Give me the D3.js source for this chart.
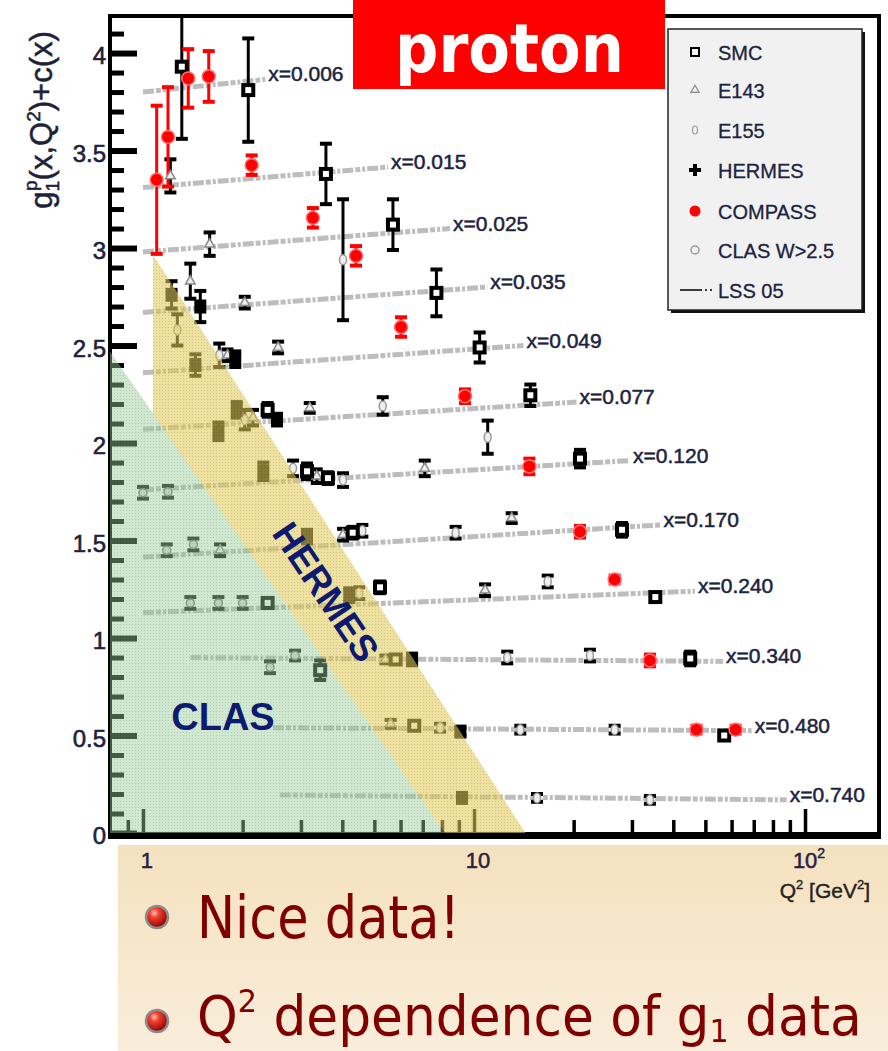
<!DOCTYPE html>
<html><head><meta charset="utf-8">
<script src="https://cdn.jsdelivr.net/npm/d3@7"></script>
<style>body{margin:0;background:#fff;} svg{display:block}</style>
</head><body>
<svg id="c" width="888" height="1051"></svg>
<script>
// ---------------- DATA ----------------
const yTickValues = [0, 0.5, 1, 1.5, 2, 2.5, 3, 3.5, 4];
const yTickLabels = ["0", "0.5", "1", "1.5", "2", "2.5", "3", "3.5", "4"];
const xMajorTicks = [1, 10, 100];
const xMinorTicks = [0.9, 2, 3, 4, 5, 6, 7, 8, 9, 20, 30, 40, 50, 60, 70, 80, 90];
const xTickLabels = ["1", "10", "10"];   // 100 drawn as 10 with superscript 2

const binLabels = ["x=0.006","x=0.015","x=0.025","x=0.035","x=0.049","x=0.077","x=0.120","x=0.170","x=0.240","x=0.340","x=0.480","x=0.740"];
// LSS 05 curves: [Q2, value] start and end points per bin
const lssStart = [[1.0,3.80],[1.0,3.31],[1.0,2.98],[1.0,2.67],[1.0,2.36],[1.0,2.07],[1.0,1.76],[1.0,1.415],[1.0,1.13],[1.39,0.90],[2.47,0.54],[2.59,0.195]];
const lssEnd   = [[2.34,3.865],[5.5,3.415],[8.46,3.10],[10.97,2.80],[14.1,2.50],[20.4,2.21],[29.6,1.91],[36.6,1.58],[46.5,1.24],[56.5,0.88],[69,0.525],[88,0.17]];

// [Q2, g1+c, error]
const smc = [[1.31,3.93,0.37],[2.08,3.81,0.265],[3.57,3.38,0.155],[5.69,3.12,0.13],[7.7,2.77,0.12],
  [10.4,2.49,0.077],[14.8,2.245,0.055],[2.38,2.17,0.035],[20.9,1.92,0.045],[3.13,1.855,0.04],[3.62,1.82,0.03],
  [28.0,1.555,0.035],[4.3,1.54,0.03],[35.3,1.21,0.02],[5.2,1.26,0.03],[2.38,1.18,0.025],
  [45,0.895,0.035],[3.43,0.835,0.05],[5.8,0.89,0.02],[57,0.50,0.02],[6.6,0.55,0.02]];
const compass = [[1.10,3.35,0.38],[1.19,3.57,0.255],[1.37,3.87,0.15],[1.58,3.88,0.13],[2.13,3.425,0.05],
  [3.26,3.155,0.05],[4.40,2.96,0.05],[6.02,2.595,0.05],[9.39,2.24,0.035],[14.7,1.88,0.04],[20.9,1.545,0.03],
  [26.6,1.30,0.02],[34.0,0.885,0.03],[47.0,0.53,0.02],[61.7,0.53,0.02]];
const hermes = [[1.22,2.76,0.07],[1.49,2.70,0.08],[1.44,2.40,0.055],[1.9,2.43,0.04],[1.69,2.06,0.045],
  [1.92,2.17,0.04],[2.54,2.12,0.03],[2.31,1.855,0.045],[3.13,1.52,0.035],[4.2,1.22,0.035],[6.5,0.89,0.03],
  [9.1,0.52,0.02],[9.2,0.18,0.02]];
const e143 = [[1.21,3.37,0.085],[1.59,3.02,0.06],[1.39,2.83,0.09],[2.03,2.72,0.03],[1.80,2.45,0.03],
  [2.56,2.49,0.03],[2.15,2.13,0.04],[3.19,2.18,0.025],[3.35,1.83,0.035],[7.1,1.87,0.04],[4.02,1.53,0.03],
  [13.0,1.615,0.025],[10.8,1.245,0.03],[5.4,0.89,0.02],[5.6,0.56,0.02],[1.71,1.45,0.03]];
const e155 = [[4.02,2.94,0.31],[1.27,2.58,0.08],[1.70,2.45,0.06],[2.03,2.12,0.05],[5.3,2.19,0.045],
  [11.0,2.03,0.085],[2.84,1.87,0.04],[4.02,1.81,0.035],[4.6,1.55,0.03],[8.8,1.54,0.03],[16.7,1.29,0.03],
  [4.5,1.23,0.03],[12.6,0.90,0.03],[22.4,0.91,0.03],[7.9,0.54,0.02],[13.8,0.53,0.02],[26.6,0.53,0.02],
  [15.5,0.18,0.02],[34,0.17,0.02]];
const clas = [[1.0,1.745,0.03],[1.19,1.75,0.03],[1.18,1.45,0.03],[1.42,1.48,0.03],
  [1.39,1.18,0.03],[1.69,1.18,0.03],[2.0,1.18,0.03],[2.42,0.85,0.03],[2.88,0.91,0.025]];

// kinematic regions [Q2, value]
const clasRegion = [[0.795,2.47],[8.17,0],[0.795,0]];
const hermesRegion = [[1.072,2.965],[14.3,0],[8.17,0],[1.072,2.15]];

const legendNames = ["SMC","E143","E155","HERMES","COMPASS","CLAS W>2.5","LSS 05"];

// ---------------- CHART ----------------
const svg = d3.select("#c");
const x = d3.scaleLog().domain([0.795, 167.3]).range([110, 879]);
const y = d3.scaleLinear().domain([0, 4.19]).range([833, 16]);
const defs = svg.append("defs");
const FONT = "Liberation Sans, Arial, sans-serif";

const bg = defs.append("linearGradient").attr("id","beige").attr("x1",0).attr("y1",0).attr("x2",0).attr("y2",1);
bg.append("stop").attr("offset","0%").attr("stop-color","#f4e1be");
bg.append("stop").attr("offset","100%").attr("stop-color","#f9eddb");
const rg = defs.append("radialGradient").attr("id","ball").attr("cx","38%").attr("cy","32%").attr("r","70%");
rg.append("stop").attr("offset","0%").attr("stop-color","#ffc0b0");
rg.append("stop").attr("offset","30%").attr("stop-color","#f04030");
rg.append("stop").attr("offset","100%").attr("stop-color","#8a0000");
defs.append("clipPath").attr("id","plotclip").append("rect").attr("x",110).attr("y",16).attr("width",769).attr("height",818);
const pat = defs.append("pattern").attr("id","dots").attr("width",3).attr("height",3).attr("patternUnits","userSpaceOnUse");
pat.append("rect").attr("width",1).attr("height",1).attr("fill","#000").attr("opacity",0.12);

// bottom text box
svg.append("rect").attr("x",118).attr("y",845).attr("width",770).attr("height",206).attr("fill","url(#beige)");

const plot = svg.append("g").attr("clip-path","url(#plotclip)");

// LSS curves
const line = d3.line().x(d => x(d[0])).y(d => y(d[1]));
lssStart.forEach((s, i) => {
  plot.append("path").attr("d", line([s, lssEnd[i]]))
    .attr("fill","none").attr("stroke","#bdbdbd").attr("stroke-width",5)
    .attr("stroke-dasharray","11 2 5 2 3 2");
});

function errBars(data, color) {
  const g = plot.append("g").attr("stroke", color).attr("stroke-width", 3);
  data.forEach(d => {
    const cx = x(d[0]), y1 = y(d[1] + d[2]), y2 = y(d[1] - d[2]);
    g.append("line").attr("x1",cx).attr("x2",cx).attr("y1",y1).attr("y2",y2);
    g.append("line").attr("x1",cx-6).attr("x2",cx+6).attr("y1",y1).attr("y2",y1).attr("stroke-width",4);
    g.append("line").attr("x1",cx-6).attr("x2",cx+6).attr("y1",y2).attr("y2",y2).attr("stroke-width",4);
  });
}
errBars(e143, "#000"); errBars(e155, "#000"); errBars(clas, "#111");
errBars(smc, "#000"); errBars(hermes, "#000"); errBars(compass, "#ff0000");

plot.append("g").selectAll("path").data(e143).join("path")
  .attr("d", d3.symbol(d3.symbolTriangle, 40)())
  .attr("transform", d => `translate(${x(d[0])},${y(d[1])})`)
  .attr("fill","#eee").attr("stroke","#888").attr("stroke-width",1.5);
plot.append("g").selectAll("ellipse").data(e155).join("ellipse")
  .attr("cx", d => x(d[0])).attr("cy", d => y(d[1])).attr("rx",3.5).attr("ry",5)
  .attr("fill","#eee").attr("stroke","#999").attr("stroke-width",1.5);
plot.append("g").selectAll("circle").data(clas).join("circle")
  .attr("cx", d => x(d[0])).attr("cy", d => y(d[1])).attr("r",4)
  .attr("fill","#ddd").attr("stroke","#777").attr("stroke-width",1.5);
plot.append("g").selectAll("rect").data(smc).join("rect")
  .attr("x", d => x(d[0]) - 5).attr("y", d => y(d[1]) - 5).attr("width",10).attr("height",10)
  .attr("fill","#fff").attr("stroke","#000").attr("stroke-width",4);
plot.append("g").selectAll("rect").data(hermes).join("rect")
  .attr("x", d => x(d[0]) - 6).attr("y", d => y(d[1]) - 7).attr("width",12).attr("height",14)
  .attr("fill","#000");
plot.append("g").selectAll("circle").data(compass).join("circle")
  .attr("cx", d => x(d[0])).attr("cy", d => y(d[1])).attr("r",6.5)
  .attr("fill","#ff0000").attr("stroke","#ff7070").attr("stroke-width",1.5);

// axes
const yMinor = d3.range(1, 42).map(i => i / 10).filter(v => Math.abs(v * 2 - Math.round(v * 2)) > 1e-6);
const gyMinor = svg.append("g").attr("transform","translate(110,0)")
  .call(d3.axisLeft(y).tickValues(yMinor).tickSize(-14).tickFormat(""));
gyMinor.selectAll(".tick line").attr("stroke","#000").attr("stroke-width",5);
const gyMajor = svg.append("g").attr("transform","translate(110,0)")
  .call(d3.axisLeft(y).tickValues(yTickValues).tickSize(-27).tickPadding(4).tickFormat((d, i) => yTickLabels[i]));
gyMajor.selectAll(".tick line").attr("stroke","#000").attr("stroke-width",6);
gyMajor.selectAll(".tick text").attr("font-family",FONT)
  .attr("font-size",24).attr("fill","#1e2238").attr("stroke","#1e2238").attr("stroke-width",0.6).attr("dy","0.45em");
const gxMinor = svg.append("g").attr("transform","translate(0,833)")
  .call(d3.axisBottom(x).tickValues(xMinorTicks).tickSize(-13).tickFormat(""));
gxMinor.selectAll(".tick line").attr("stroke","#000").attr("stroke-width",3.5);
const gxMajor = svg.append("g").attr("transform","translate(0,833)")
  .call(d3.axisBottom(x).tickValues(xMajorTicks).tickSize(-24).tickFormat(""));
gxMajor.selectAll(".tick line").attr("stroke","#000").attr("stroke-width",3.5);
svg.selectAll(".domain").remove();

// frame
svg.append("rect").attr("x",110).attr("y",16).attr("width",769).attr("height",818)
  .attr("fill","none").attr("stroke","#000").attr("stroke-width",4);
svg.append("line").attr("x1",108).attr("x2",881).attr("y1",836).attr("y2",836).attr("stroke","#000").attr("stroke-width",6);

// kinematic region overlays (on top of data, like the reference)
const poly = d3.line().x(d => x(d[0])).y(d => y(d[1]));
svg.append("path").attr("d", poly(clasRegion) + "Z").attr("fill","#96cc96").attr("fill-opacity",0.45);
svg.append("path").attr("d", poly(clasRegion) + "Z").attr("fill","url(#dots)");
svg.append("path").attr("d", poly(hermesRegion) + "Z").attr("fill","#e4cc5c").attr("fill-opacity",0.58);
svg.append("path").attr("d", poly(hermesRegion) + "Z").attr("fill","url(#dots)");

svg.append("text").attr("x",223).attr("y",730).attr("text-anchor","middle")
  .attr("font-family",FONT).attr("font-weight","bold")
  .attr("font-size",38).attr("fill","#0d1a70").text("CLAS");
svg.append("text").attr("transform","translate(326,592) rotate(56)").attr("text-anchor","middle")
  .attr("dy","0.35em").attr("font-family",FONT).attr("font-weight","bold")
  .attr("font-size",37).attr("fill","#0d1a70").text("HERMES");

// bin labels
binLabels.forEach((t, i) => {
  svg.append("text").attr("x", x(lssEnd[i][0]) + 3).attr("y", y(lssEnd[i][1]) + 2)
    .attr("font-family",FONT).attr("font-size",21)
    .attr("fill","#1c2340").attr("stroke","#1c2340").attr("stroke-width",0.5).text(t);
});

// x tick labels
const xl = svg.append("g").attr("font-family",FONT).attr("font-size",22).attr("fill","#2a2040")
  .attr("stroke","#2a2040").attr("stroke-width",0.5);
xMajorTicks.forEach((v, i) => {
  const t = xl.append("text").attr("x", x(v) + 4).attr("y", 868).attr("text-anchor","middle").text(xTickLabels[i]);
  if (v === 100) t.append("tspan").attr("font-size",14).attr("dy",-10).text("2");
});
const qt = svg.append("text").attr("x",870).attr("y",898).attr("text-anchor","end")
  .attr("font-family",FONT).attr("font-size",21).attr("fill","#222").attr("stroke","#222").attr("stroke-width",0.4);
qt.append("tspan").text("Q");
qt.append("tspan").attr("font-size",13).attr("dy",-9).text("2");
qt.append("tspan").attr("dy",9).text(" [GeV");
qt.append("tspan").attr("font-size",13).attr("dy",-9).text("2");
qt.append("tspan").attr("dy",9).text("]");

// y axis title
const yt = svg.append("text").attr("transform","translate(52,120) rotate(-90)").attr("text-anchor","middle")
  .attr("font-family",FONT).attr("font-size",31).attr("fill","#1e2238").attr("stroke","#1e2238").attr("stroke-width",0.5);
yt.append("tspan").text("g");
yt.append("tspan").attr("font-size",19).attr("dy",7).text("1");
yt.append("tspan").attr("font-size",19).attr("dx",-10).attr("dy",-22).text("p");
yt.append("tspan").attr("dy",15).text("(x,Q");
yt.append("tspan").attr("font-size",19).attr("dy",-12).text("2");
yt.append("tspan").attr("dy",12).text(")+c(x)");

// legend
const lg = svg.append("g");
lg.append("rect").attr("x",671).attr("y",32).attr("width",194).attr("height",281).attr("fill","#111");
lg.append("rect").attr("x",668).attr("y",29).attr("width",194).attr("height",281).attr("fill","#f1f1f1").attr("stroke","#222").attr("stroke-width",1.5);
const ly = [52, 90, 130, 170, 211, 250, 290];
legendNames.forEach((n, i) => {
  lg.append("text").attr("x",718).attr("y",ly[i] + 7.5).attr("font-family",FONT)
    .attr("font-size",20).attr("fill","#1c2340").attr("stroke","#1c2340").attr("stroke-width",0.3).text(n);
});
lg.append("rect").attr("x",691).attr("y",ly[0]-4).attr("width",8).attr("height",8).attr("fill","none").attr("stroke","#000").attr("stroke-width",2);
lg.append("path").attr("d", d3.symbol(d3.symbolTriangle, 30)()).attr("transform",`translate(695,${ly[1]})`).attr("fill","none").attr("stroke","#888").attr("stroke-width",1.2);
lg.append("ellipse").attr("cx",695).attr("cy",ly[2]).attr("rx",2.5).attr("ry",4).attr("fill","none").attr("stroke","#999").attr("stroke-width",1.2);
lg.append("path").attr("d",`M689,${ly[3]}H701M695,${ly[3]-6}V${ly[3]+6}`).attr("stroke","#000").attr("stroke-width",4);
lg.append("circle").attr("cx",695).attr("cy",ly[4]).attr("r",5.5).attr("fill","#ff0000");
lg.append("circle").attr("cx",695).attr("cy",ly[5]).attr("r",4).attr("fill","none").attr("stroke","#999").attr("stroke-width",1.5);
lg.append("line").attr("x1",680).attr("x2",713).attr("y1",ly[6]).attr("y2",ly[6]).attr("stroke","#000").attr("stroke-width",1.5).attr("stroke-dasharray","22 3 2 3 2 3");

// title box
svg.append("rect").attr("x",353).attr("y",0).attr("width",312).attr("height",89).attr("fill","#ff0000");
const tt = svg.append("text").attr("x",395).attr("y",72).attr("font-family","DejaVu Sans, Verdana, sans-serif")
  .attr("font-weight","bold").attr("font-size",68).attr("fill","#fff").text("proton");
function fitWidth(t, x0, target) {
  const w = t.node().getBBox().width;
  t.attr("transform", `translate(${x0},0) scale(${target / w},1) translate(${-x0},0)`);
}
fitWidth(tt, 395, 229);

// bullets
[917, 1021].forEach(cy => {
  svg.append("circle").attr("cx",157).attr("cy",cy).attr("r",11).attr("fill","url(#ball)").attr("stroke","#8c8c8c").attr("stroke-width",2.5);
});
const b1 = svg.append("text").attr("x",197).attr("y",938).attr("font-family","DejaVu Sans Condensed, DejaVu Sans, sans-serif")
  .attr("font-size",58).attr("fill","#800000").text("Nice data!");
fitWidth(b1, 197, 263);
const b2 = svg.append("text").attr("x",197).attr("y",1035).attr("font-family","DejaVu Sans Condensed, DejaVu Sans, sans-serif")
  .attr("font-size",55).attr("fill","#800000");
b2.append("tspan").text("Q");
b2.append("tspan").attr("font-size",32).attr("dy",-23).text("2");
b2.append("tspan").attr("dy",23).text(" dependence of g");
b2.append("tspan").attr("font-size",32).attr("dy",7).text("1");
b2.append("tspan").attr("dy",-7).text(" data");
fitWidth(b2, 197, 665);
</script>
</body></html>
